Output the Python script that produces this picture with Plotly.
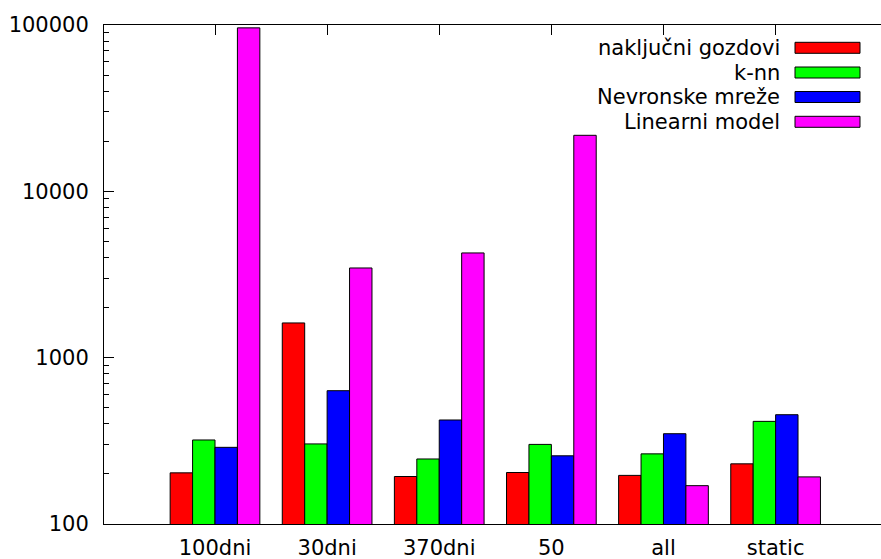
import plotly.graph_objects as go

categories = ["100dni", "30dni", "370dni", "50", "all", "static"]
series_names = ["naključni gozdovi", "k-nn", "Nevronske mreže", "Linearni model"]
series_colors = ["#ff0000", "#00ff00", "#0000ff", "#ff00ff"]
rf_values = [203, 1617, 193, 204, 196, 230]
knn_values = [320, 303, 246, 301, 264, 414]
nn_values = [289, 633, 422, 257, 349, 454]
lin_values = [96100, 3461, 4262, 21720, 170, 192]
series_values = [rf_values, knn_values, nn_values, lin_values]
y_major = [100, 1000, 10000, 100000]
y_major_text = ["100", "1000", "10000", "100000"]
y_minor = [m * d for d in (100, 1000, 10000) for m in range(2, 10)]

W, H = 881, 559
ML, MR, MT, MB = 104, 0, 25, 35
PW, PH = W - ML - MR, H - MT - MB
FONT = "DejaVu Sans"
FS = 21


def px_x(px):
    return (px - ML) / PW


def px_y(py):
    return 1 - (py - MT) / PH


fig = go.Figure()
for name, color, vals in zip(series_names, series_colors, series_values):
    fig.add_trace(go.Bar(
        x=categories, y=vals, name=name,
        marker=dict(color=color, line=dict(color="#000000", width=1)),
        showlegend=False,
    ))

# manual legend (text right, swatch right of text)
row_centers = [47.8, 72.5, 97.0, 121.8]
annotations = []
shapes = []
for name, color, yc in zip(series_names, series_colors, row_centers):
    annotations.append(dict(
        x=px_x(782), y=px_y(yc), xref="paper", yref="paper",
        text=name, showarrow=False, xanchor="right", yanchor="middle",
        font=dict(family=FONT, size=FS, color="#000000"),
    ))
    shapes.append(dict(
        type="rect", xref="paper", yref="paper",
        x0=px_x(795), x1=px_x(860), y0=px_y(yc + 5.5), y1=px_y(yc - 5.5),
        fillcolor=color, line=dict(color="#000000", width=1),
    ))

fig.update_layout(
    width=W, height=H, autosize=False,
    margin=dict(l=ML, r=MR, t=MT, b=MB, pad=0),
    paper_bgcolor="white", plot_bgcolor="white",
    font=dict(family=FONT, size=FS, color="#000000"),
    barmode="group", bargap=0.2, bargroupgap=0,
    annotations=annotations, shapes=shapes,
    xaxis=dict(
        type="category", range=[-0.99, 5.94],
        showline=True, linecolor="#000000", linewidth=1, mirror="ticks",
        ticks="inside", ticklen=10, tickcolor="#000000", tickwidth=1,
        showgrid=False, zeroline=False, layer="below traces",
        ticklabelstandoff=5, automargin=False,
        tickfont=dict(family=FONT, size=FS, color="#000000"),
    ),
    yaxis=dict(
        type="log", range=[2, 5],
        tickmode="array", tickvals=y_major, ticktext=y_major_text,
        showline=True, linecolor="#000000", linewidth=1, mirror=False,
        ticks="inside", ticklen=10, tickcolor="#000000", tickwidth=1,
        minor=dict(tickmode="array", tickvals=y_minor, ticks="inside",
                   ticklen=5, tickcolor="#000000", tickwidth=1, showgrid=False),
        showgrid=False, zeroline=False, automargin=False,
        ticklabelstandoff=10,
        tickfont=dict(family=FONT, size=FS, color="#000000"),
    ),
    yaxis2=dict(
        type="log", range=[2, 5], overlaying="y", side="right", anchor="x",
        tickmode="array", tickvals=y_major, showticklabels=False,
        ticks="inside", ticklen=5, tickcolor="#000000", tickwidth=1,
        showline=False, showgrid=False, zeroline=False,
    ),
)

fig.write_html("out.html", config={"displayModeBar": False},
               post_script="document.body.style.margin='0px';")
